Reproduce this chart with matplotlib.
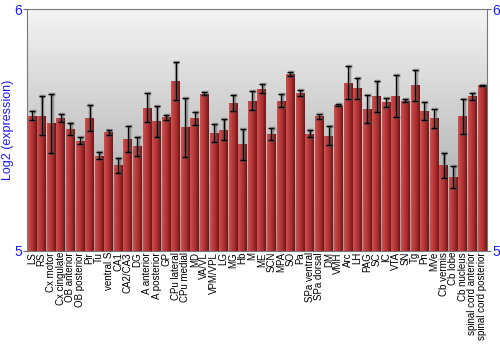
import numpy as np
import matplotlib.pyplot as plt
from matplotlib.colors import LinearSegmentedColormap

regions = ['LS', 'RS', 'Cx motor', 'Cx cingulate', 'OB anterior', 'OB posterior', 'Pir', 'Tu',
           'ventral S', 'CA1', 'CA2/CA3', 'DG', 'A anterior', 'A posterior', 'GP', 'CPu lateral',
           'CPu medial', 'MD', 'VA/VL', 'VPM/VPL', 'LG', 'MG', 'Hb', 'M', 'ME', 'SCN', 'MPA', 'SO',
           'Pa', 'SPa ventral', 'SPa dorsal', 'DM', 'VMH', 'Arc', 'LH', 'PAG', 'SC', 'IC', 'VTA',
           'SN', 'Tg', 'Pn', 'MVe', 'Cb vermis', 'Cb lobe', 'Cb nucleus', 'spinal cord anterior',
           'spinal cord posterior']
expression = [5.560, 5.560, 5.527, 5.549, 5.505, 5.456, 5.551, 5.394,
              5.490, 5.353, 5.462, 5.433, 5.593, 5.537, 5.553, 5.704,
              5.512, 5.548, 5.651, 5.488, 5.502, 5.610, 5.440, 5.622, 5.671, 5.484, 5.622, 5.733,
              5.654, 5.484, 5.556, 5.477, 5.602, 5.696, 5.672, 5.585, 5.640, 5.615, 5.640,
              5.622, 5.685, 5.580, 5.548, 5.353, 5.304, 5.556, 5.639,
              5.685]
errors = [0.017, 0.080, 0.124, 0.017, 0.026, 0.016, 0.054, 0.014,
          0.010, 0.031, 0.053, 0.039, 0.061, 0.064, 0.011, 0.079,
          0.122, 0.028, 0.008, 0.036, 0.044, 0.033, 0.063, 0.040, 0.018, 0.026, 0.028, 0.008,
          0.012, 0.014, 0.010, 0.038, 0.004, 0.069, 0.043, 0.058, 0.065, 0.018, 0.088,
          0.006, 0.065, 0.037, 0.041, 0.052, 0.046, 0.073, 0.014,
          0.003]

plt.rcParams['font.family'] = ['Liberation Sans', 'DejaVu Sans']

fig = plt.figure(figsize=(5, 3.5), dpi=100)
ax = fig.add_axes([0.0546, 0.2837, 0.9188, 0.6897])

# grey gradient background
bg = LinearSegmentedColormap.from_list('bg', ['#9c9c9c', '#f4f4f4'])
ax.imshow(np.linspace(0, 1, 256).reshape(-1, 1), cmap=bg, origin='lower',
          extent=[0, 1, 0, 1], transform=ax.transAxes, aspect='auto', zorder=0)

x = np.arange(len(regions))
bars = ax.bar(x, np.array(expression) - 5, bottom=5, width=0.9, color='#b83434',
              edgecolor='none', zorder=2)

# horizontal shading on each bar
shade = LinearSegmentedColormap.from_list('shade', ['#cc5252', '#bc3c3c', '#a42c2c', '#701414'])
grad = np.linspace(0, 1, 64).reshape(1, -1)
for b in bars:
    x0, y0 = b.get_x(), b.get_y()
    im = ax.imshow(grad, cmap=shade, extent=[x0, x0 + b.get_width(), y0, y0 + b.get_height()],
                   aspect='auto', zorder=2.5)
    im.set_clip_path(b)

# error bars with a soft shadow
ax.errorbar(x + 0.08, expression, yerr=errors, fmt='none', ecolor='#555555', alpha=0.45,
            elinewidth=2.5, capsize=2.5, capthick=2.5, zorder=3)
ax.errorbar(x, expression, yerr=errors, fmt='none', ecolor='black',
            elinewidth=0.9, capsize=2, capthick=1, zorder=4)

ax.set_xlim(-0.5, len(regions) - 0.5)
ax.set_ylim(5, 6)
ax.set_yticks([5, 6])
ax.tick_params(axis='y', labelcolor='#1a1aff', labelsize=10, length=3, color='#666666',
               right=True, labelright=True, pad=1)
ax.set_xticks(x)
ax.set_xticklabels(regions, rotation=90, fontsize=7)
ax.tick_params(axis='x', length=0, pad=1)
ax.set_ylabel('Log2 (expression)', color='#1a1aff', fontsize=9)
ax.yaxis.set_label_coords(-0.03, 0.5)
for s in ax.spines.values():
    s.set_color('#777777')

fig.savefig('out.png', dpi=100)
